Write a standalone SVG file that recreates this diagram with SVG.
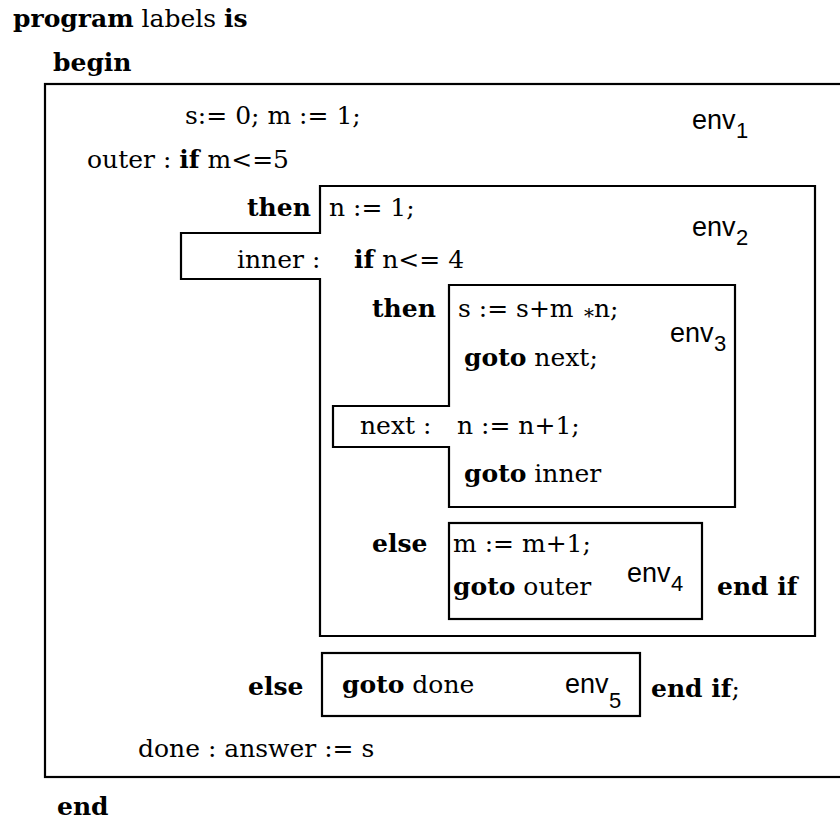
<svg xmlns="http://www.w3.org/2000/svg" width="840" height="822" viewBox="0 0 840 822">
<style>
text{font-family:"DejaVu Serif","Liberation Serif",serif;font-size:25px;fill:#000}
.b{font-weight:bold}
.env{font-family:"Liberation Sans",Arial,sans-serif;font-size:27px}
.sub{font-family:"Liberation Sans",Arial,sans-serif;font-size:22px}
.box{fill:none;stroke:#000;stroke-width:2.2}
</style>
<rect width="840" height="822" fill="#fff"/>
<text x="13" y="27"><tspan class="b">program</tspan> labels <tspan class="b">is</tspan></text>
<text class="b" x="53" y="71">begin</text>
<g id="env1">
<rect class="box" x="45" y="84" width="810" height="693"/>
<text x="185" y="124">s:= 0; m := 1;</text>
<text x="87" y="168">outer : <tspan class="b">if</tspan> m&lt;=5</text>
<text class="env" x="692" y="129">env</text><text class="sub" x="736" y="138">1</text>
<text x="138" y="757">done : answer := s</text>
</g>
<g id="env2">
<path class="box" d="M320,186 H815 V636 H320 V279 H181 V233 H320 Z"/>
<text class="b" x="247" y="216">then</text>
<text x="329" y="216">n := 1;</text>
<text x="237" y="268">inner :</text>
<text x="354" y="268"><tspan class="b">if</tspan> n&lt;= 4</text>
<text class="env" x="692" y="236">env</text><text class="sub" x="736" y="245">2</text>
<text class="b" x="717" y="595">end if</text>
</g>
<g id="env3">
<path class="box" d="M449,285 H735 V507 H449 V447 H333 V406 H449 Z"/>
<text class="b" x="372" y="317">then</text>
<text x="458" y="317">s := s+m</text>
<text x="584" y="323" style="font-size:20px">*</text>
<text x="594" y="317">n;</text>
<text x="464" y="366"><tspan class="b">goto</tspan> next;</text>
<text class="env" x="670" y="342">env</text><text class="sub" x="714" y="351">3</text>
<text x="360" y="434">next :</text>
<text x="457" y="434">n := n+1;</text>
<text x="464" y="482"><tspan class="b">goto</tspan> inner</text>
</g>
<g id="env4">
<rect class="box" x="449" y="523" width="253" height="96"/>
<text class="b" x="372" y="552">else</text>
<text x="453" y="552">m := m+1;</text>
<text x="453" y="595"><tspan class="b">goto</tspan> outer</text>
<text class="env" x="627" y="582">env</text><text class="sub" x="671" y="591">4</text>
</g>
<g id="env5">
<rect class="box" x="322" y="653" width="318" height="63"/>
<text class="b" x="248" y="695">else</text>
<text x="342" y="693"><tspan class="b">goto</tspan> done</text>
<text class="env" x="565" y="693">env</text><text class="sub" x="609" y="708">5</text>
<text x="651" y="697"><tspan class="b">end if</tspan>;</text>
</g>
<text class="b" x="57" y="815">end</text>
<g id="connectors"></g>
</svg>
